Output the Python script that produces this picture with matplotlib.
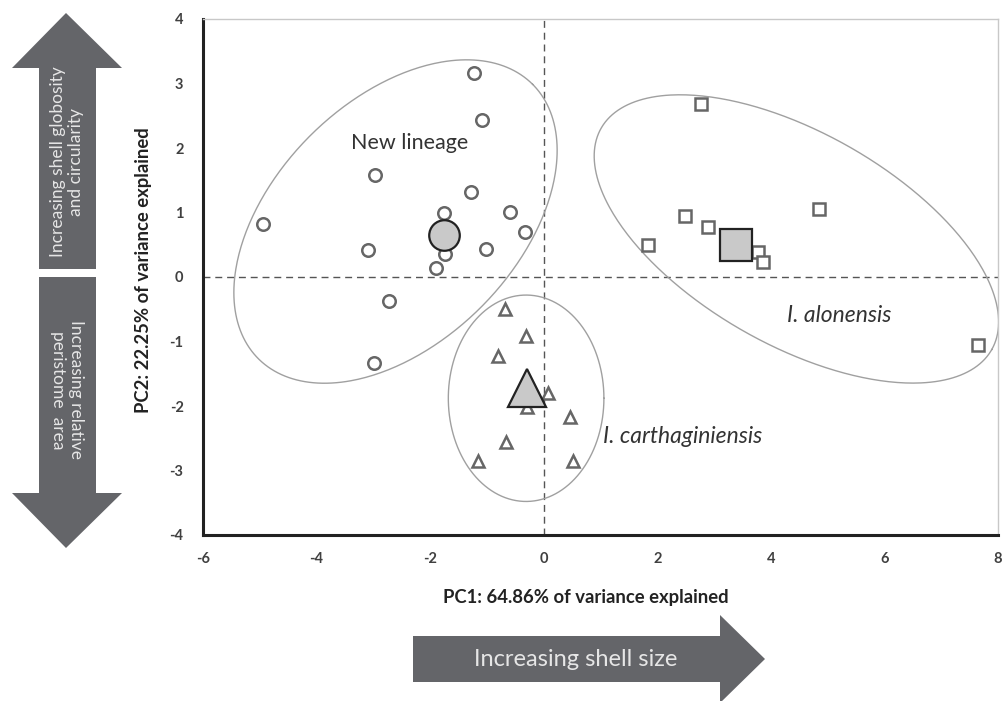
import matplotlib
matplotlib.use("Agg")
import matplotlib.pyplot as plt
import numpy as np
from matplotlib.patches import Polygon

plt.rcParams['font.family'] = ['Lato', 'DejaVu Sans']
plt.rcParams['axes.unicode_minus'] = False

# PCA scores
new_x = [-1.22, -1.08, -2.97, -1.28, -1.76, -0.60, -0.33, -4.94, -3.09, -1.74, -1.02, -1.90, -2.72, -2.99]
new_y = [3.16, 2.44, 1.58, 1.32, 1.00, 1.01, 0.70, 0.82, 0.42, 0.35, 0.43, 0.14, -0.37, -1.34]
alo_x = [2.77, 2.49, 2.89, 1.83, 4.84, 3.77, 3.86, 7.65]
alo_y = [2.68, 0.94, 0.78, 0.49, 1.05, 0.38, 0.23, -1.05]
car_x = [-0.69, -0.31, -0.80, 0.07, -0.29, 0.46, -0.67, -1.15, 0.52]
car_y = [-0.50, -0.91, -1.23, -1.80, -2.01, -2.17, -2.56, -2.86, -2.86]

# group centroids
cent_x = [-1.75, 3.38, -0.29]
cent_y = [0.65, 0.50, -1.72]
cent_marker = ['o', 's', '^']

# ellipses: centre and two conjugate semi-axis vectors (data units)
ell_c = [(-2.61, 0.86), (4.45, 0.59), (-0.31, -1.88)]
ell_u = [(2.415, 2.127), (3.44, -1.715), (1.37, 0.0)]
ell_v = [(-1.507, 1.327), (0.921, 1.433), (0.0, 1.60)]

xticks = [-6, -4, -2, 0, 2, 4, 6, 8]
yticks = [-4, -3, -2, -1, 0, 1, 2, 3, 4]

W, H = 1002, 701
fig = plt.figure(figsize=(W / 100, H / 100), dpi=100)
ax = fig.add_axes([203 / W, 1 - 535 / H, 795 / W, 516 / H])

ax.set_xlim(-6, 8)
ax.set_ylim(-4, 4)
ax.set_xticks(xticks)
ax.set_yticks(yticks)
ax.tick_params(length=0, labelsize=10.5, labelcolor='#404040', pad=14)
for lab in ax.get_xticklabels() + ax.get_yticklabels():
    lab.set_fontweight('bold')
ax.tick_params(axis='x', pad=12)

for s in ['left', 'bottom']:
    ax.spines[s].set_linewidth(2.2)
    ax.spines[s].set_color('#222222')
for s in ['top', 'right']:
    ax.spines[s].set_linewidth(1.0)
    ax.spines[s].set_color('#c8c8c8')

ax.axvline(0, color='#555555', lw=1.0, ls=(0, (5, 3.5)), zorder=1)
ax.axhline(0, color='#555555', lw=1.0, ls=(0, (5, 3.5)), zorder=1)

t = np.linspace(0, 2 * np.pi, 400)
for c, u, v in zip(ell_c, ell_u, ell_v):
    ex = c[0] + u[0] * np.cos(t) + v[0] * np.sin(t)
    ey = c[1] + u[1] * np.cos(t) + v[1] * np.sin(t)
    ax.plot(ex, ey, color='#a0a0a0', lw=1.0, zorder=2)

mk = dict(ls='none', mfc='white', mec='#666666', mew=1.8, zorder=3)
ax.plot(new_x, new_y, marker='o', ms=9, **mk)
ax.plot(alo_x, alo_y, marker='s', ms=8.5, **mk)
ax.plot(car_x, car_y, marker='^', ms=9, **mk)

big_ms = [22, 23, 27]
for x, y, m, s in zip(cent_x, cent_y, cent_marker, big_ms):
    ax.plot(x, y, marker=m, ms=s, mfc='#c9c9c9', mec='#222222', mew=1.6, ls='none', zorder=4)

ax.text(-2.36, 2.08, 'New lineage', fontsize=15.5, color='#333333', ha='center', va='center')
ax.text(5.21, -0.60, 'I. alonensis', fontsize=16.5, style='italic', color='#333333', ha='center', va='center')
ax.text(1.04, -2.48, 'I. carthaginiensis', fontsize=16.5, style='italic', color='#333333', ha='left', va='center')

fig.text(586 / W, 1 - 598 / H, 'PC1: 64.86% of variance explained', fontsize=13.3,
         fontweight='bold', color='#222222', ha='center', va='center')
fig.text(143 / W, 1 - 270 / H, 'PC2: 22.25% of variance explained', fontsize=13.3,
         fontweight='bold', color='#222222', ha='center', va='center', rotation=90)

# direction arrows, drawn in pixel units from the top-left corner
def px(pts):
    return [(x / 100, (H - y) / 100) for x, y in pts]

arrow_col = '#646569'
up = [(39, 269), (39, 68), (12, 68), (66, 13), (122, 68), (96, 68), (96, 269)]
down = [(39, 277), (39, 493), (12, 493), (66, 548), (122, 493), (96, 493), (96, 277)]
right = [(413, 636), (720, 636), (720, 615), (765, 659), (720, 703), (720, 682), (413, 682)]
for pts in [up, down, right]:
    fig.add_artist(Polygon(px(pts), closed=True, transform=fig.dpi_scale_trans,
                           facecolor=arrow_col, edgecolor='none'))

fig.text(67 / W, 1 - 162 / H, 'Increasing shell globosity\nand circularity', fontsize=12.5,
         color='#e6e6e6', rotation=90, ha='center', va='center', linespacing=1.2)
fig.text(67 / W, 1 - 390 / H, 'Increasing relative\nperistome  area', fontsize=12.5,
         color='#e6e6e6', rotation=270, ha='center', va='center', linespacing=1.2)
fig.text(576 / W, 1 - 659 / H, 'Increasing shell size', fontsize=17,
         color='#e6e6e6', ha='center', va='center')

fig.savefig('out.png', dpi=100)
